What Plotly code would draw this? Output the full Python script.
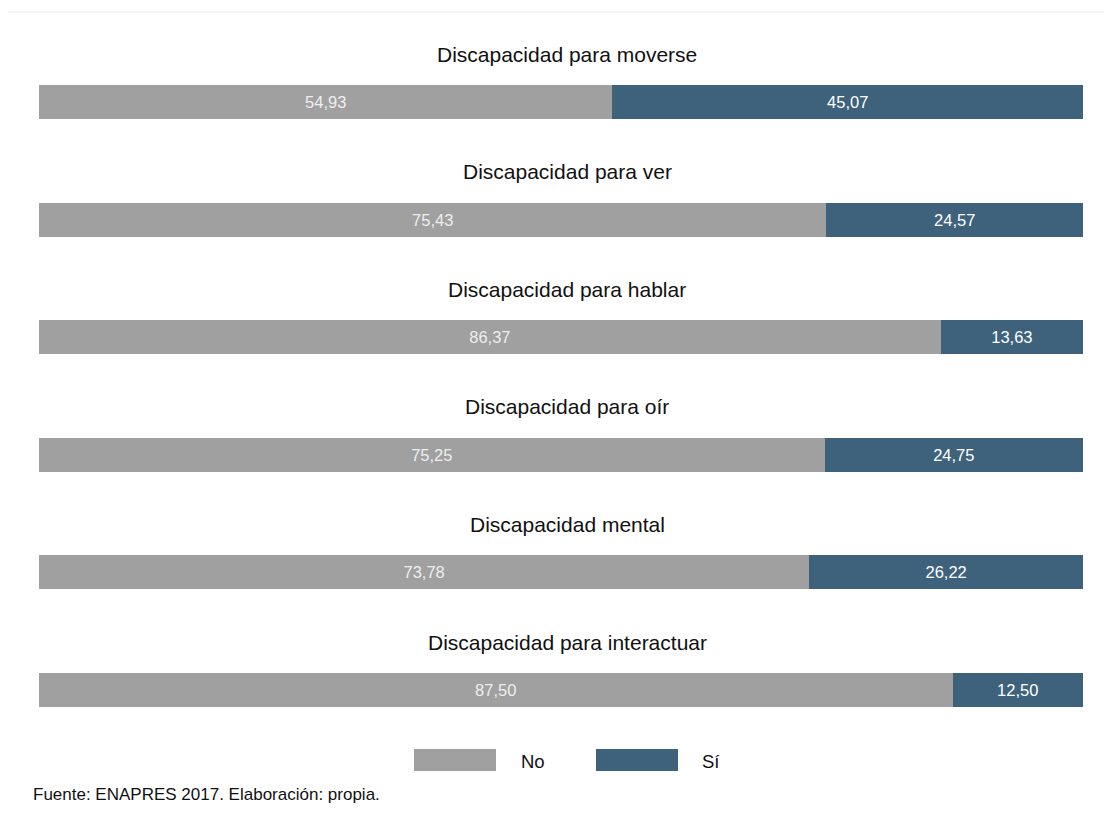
import plotly.graph_objects as go

categories = ["Discapacidad para moverse", "Discapacidad para ver", "Discapacidad para hablar",
              "Discapacidad para oír", "Discapacidad mental", "Discapacidad para interactuar"]
no_values = [54.93, 75.43, 86.37, 75.25, 73.78, 87.50]
si_values = [45.07, 24.57, 13.63, 24.75, 26.22, 12.50]
series_names = ["No", "Sí"]
colors = ["#a0a0a0", "#3e627c"]
source = "Fuente: ENAPRES 2017. Elaboración: propia."

FONT = "Liberation Sans, Arial, sans-serif"
W, H = 1112, 818
OFF = 8  # page body margin
L = 39 - OFF
R = W - (1083 - OFF)
T = 0
plot_bottom = 730 - OFF
B = H - plot_bottom
plot_h = plot_bottom - T
step = 117.6
first_center = 102 - OFF
ypos = list(range(len(categories)))
y_top = -first_center / step
y_bot = (plot_h - first_center) / step

def fmt(v):
    return f"{v:.2f}".replace(".", ",")

fig = go.Figure()
for name, vals, col, tcol in [(series_names[0], no_values, colors[0], "#eeeeee"),
                              (series_names[1], si_values, colors[1], "#ffffff")]:
    fig.add_trace(go.Bar(
        y=ypos, x=vals, orientation="h", name=name,
        marker=dict(color=col, line=dict(width=0)),
        width=34 / step,
        text=[fmt(v) for v in vals], textposition="inside",
        insidetextanchor="middle", textangle=0,
        textfont=dict(family=FONT, size=16.5, color=tcol),
        showlegend=False, hoverinfo="skip",
    ))

def px_x(px):
    return (px - OFF - L) / (W - L - R)

def px_y(py):
    return (plot_h - (py - OFF - T)) / plot_h

annotations = []
for i, c in enumerate(categories):
    annotations.append(dict(text=c, x=px_x(567), xref="paper", y=i - 48 / step, yref="y",
                            showarrow=False, xanchor="center", yanchor="middle",
                            font=dict(family=FONT, size=21, color="#111111")))

shapes = [dict(type="line", xref="paper", yref="paper", x0=px_x(5), x1=px_x(1120),
               y0=px_y(12), y1=px_y(12), line=dict(color="#e6ecf0", width=1))]
legend_boxes = [(414, 496, 519), (596, 678, 700)]
for (x0, x1, tx), name, col in zip(legend_boxes, series_names, colors):
    shapes.append(dict(type="rect", xref="paper", yref="paper", x0=px_x(x0), x1=px_x(x1),
                       y0=px_y(771), y1=px_y(749), fillcolor=col, line=dict(width=0)))
    annotations.append(dict(text=name, x=px_x(tx), xref="paper", y=px_y(761), yref="paper",
                            showarrow=False, xanchor="left", yanchor="middle",
                            font=dict(family=FONT, size=18.5, color="#111111")))
annotations.append(dict(text=source, x=px_x(31), xref="paper", y=px_y(795), yref="paper",
                        showarrow=False, xanchor="left", yanchor="middle",
                        font=dict(family=FONT, size=17, color="#111111")))

fig.update_layout(
    barmode="stack", width=W, height=H,
    margin=dict(l=L, r=R, t=T, b=B, pad=0),
    paper_bgcolor="white", plot_bgcolor="white",
    xaxis=dict(range=[0, 100], visible=False, fixedrange=True),
    yaxis=dict(range=[y_bot, y_top], visible=False, fixedrange=True),
    annotations=annotations, shapes=shapes,
    uniformtext=dict(minsize=8, mode="show"),
)
fig.write_html("out.html")
